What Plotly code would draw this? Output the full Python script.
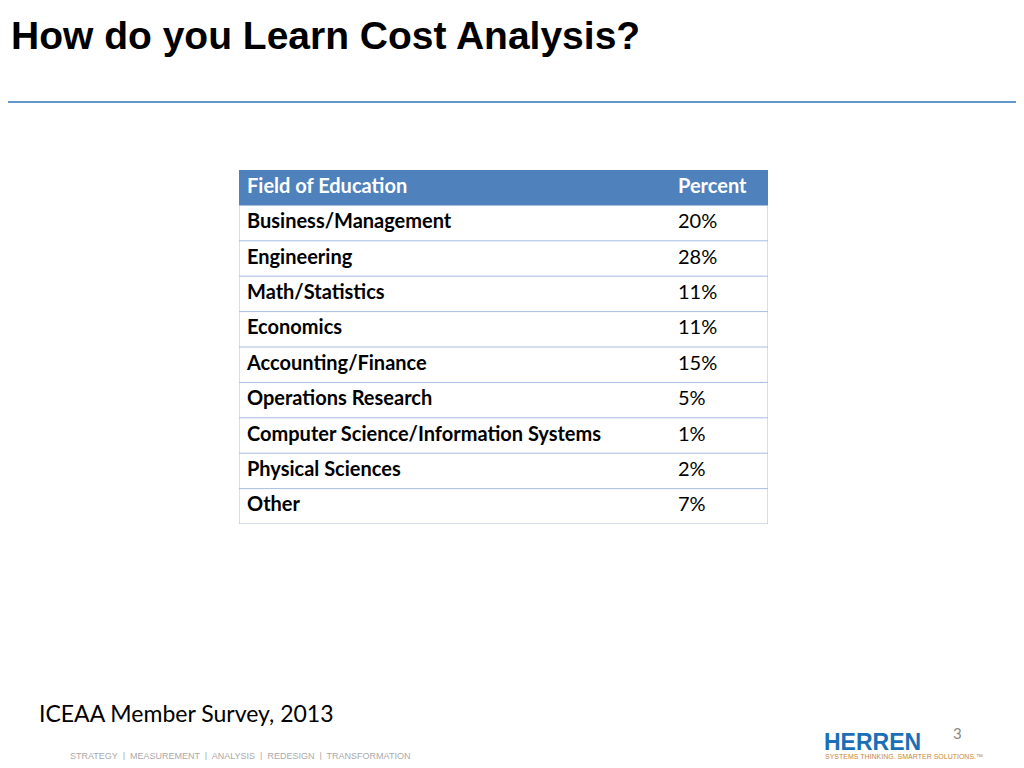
import plotly.graph_objects as go

fields = ["Business/Management", "Engineering", "Math/Statistics", "Economics",
          "Accounting/Finance", "Operations Research",
          "Computer Science/Information Systems", "Physical Sciences", "Other"]
percents = ["20%", "28%", "11%", "11%", "15%", "5%", "1%", "2%", "7%"]
headers = ["Field of Education", "Percent"]

# the page body has an 8px margin, so work in page pixels
W, H = 1008, 752


def xp(x):
    return (x - 8) / W


def yp(y):
    return 1 - (y - 8) / H


n = len(fields)
rows = list(range(1, n + 1))
col2 = 431  # x of second column in table units (table is 529 wide)

fig = go.Figure()
fig.add_trace(go.Scatter(x=[8] * n, y=rows, mode="text", text=["<b>%s</b>" % f for f in fields],
                         textposition="middle right", hoverinfo="skip",
                         textfont=dict(family="Lato", size=20, color="black")))
fig.add_trace(go.Scatter(x=[col2 + 8] * n, y=rows, mode="text", text=percents,
                         textposition="middle right", hoverinfo="skip",
                         textfont=dict(family="Lato", size=20, color="black")))
fig.add_trace(go.Scatter(x=[8, col2 + 8], y=[0, 0], mode="text",
                         text=["<b>%s</b>" % h for h in headers],
                         textposition="middle right", hoverinfo="skip",
                         textfont=dict(family="Lato", size=20, color="white")))

# header band and row rules
fig.add_shape(type="rect", x0=0, x1=529, y0=-0.5, y1=0.5, xref="x", yref="y",
              fillcolor="#4f81bd", line_width=0, layer="below")
for i in range(n):
    fig.add_shape(type="line", x0=0, x1=529, y0=i + 1.5, y1=i + 1.5, xref="x", yref="y",
                  line=dict(color="#a7bde0", width=1))
for xv in [0, 529]:
    fig.add_shape(type="line", x0=xv, x1=xv, y0=0.5, y1=n + 0.5, xref="x", yref="y",
                  line=dict(color="#a7bde0", width=1))

fig.update_xaxes(range=[0, 529], visible=False, domain=[xp(239), xp(768)], fixedrange=True)
fig.update_yaxes(range=[n + 0.5, -0.5], visible=False, domain=[yp(524), yp(170)], fixedrange=True)

fig.add_annotation(text="<b>How do you Learn Cost Analysis?</b>", x=xp(9), y=yp(12),
                   xref="paper", yref="paper", xanchor="left", yanchor="top",
                   showarrow=False, font=dict(family="Liberation Sans", size=39, color="black"))
fig.add_shape(type="line", x0=0, x1=1, y0=yp(102), y1=yp(102),
              xref="paper", yref="paper", line=dict(color="#2e75b6", width=1.5))
fig.add_annotation(text="ICEAA Member Survey, 2013", x=xp(37), y=yp(713),
                   xref="paper", yref="paper", xanchor="left", yanchor="middle",
                   showarrow=False, font=dict(family="Lato", size=23, color="black"))
fig.add_annotation(text="STRATEGY  |  MEASUREMENT  |  ANALYSIS  |  REDESIGN  |  TRANSFORMATION",
                   x=xp(68), y=yp(756), xref="paper", yref="paper",
                   xanchor="left", yanchor="middle", showarrow=False,
                   font=dict(family="Liberation Sans Narrow, Liberation Sans", size=9, color="#aaaaaa"))
fig.add_annotation(text="<b>HERREN</b>", x=xp(822), y=yp(742), xref="paper", yref="paper",
                   xanchor="left", yanchor="middle", showarrow=False,
                   font=dict(family="Liberation Sans", size=23, color="#1a6fb5"))
fig.add_annotation(text="SYSTEMS THINKING. SMARTER SOLUTIONS.™", x=xp(823), y=yp(756),
                   xref="paper", yref="paper", xanchor="left", yanchor="middle",
                   showarrow=False, font=dict(family="Liberation Sans", size=7, color="#c8873a"))
fig.add_annotation(text="3", x=xp(957), y=yp(733), xref="paper", yref="paper",
                   xanchor="center", yanchor="middle", showarrow=False,
                   font=dict(family="Lato", size=15, color="#888888"))

fig.update_layout(width=W, height=H, margin=dict(l=0, r=0, t=0, b=0), showlegend=False,
                  paper_bgcolor="white", plot_bgcolor="white")
fig.write_html("out.html")
